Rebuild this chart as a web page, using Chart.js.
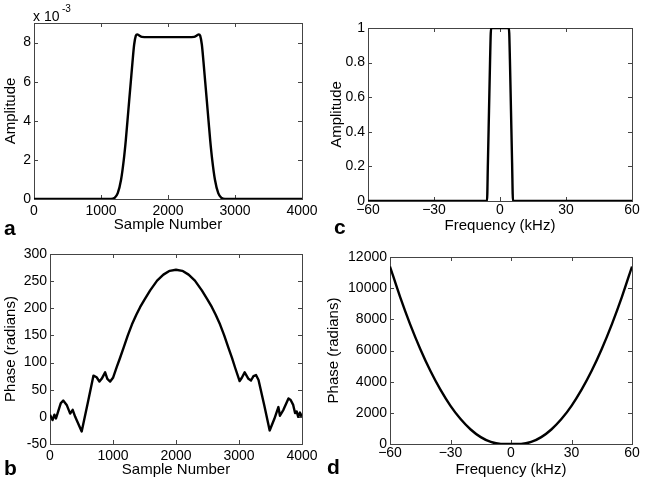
<!DOCTYPE html>
<html>
<head>
<meta charset="utf-8">
<script src="https://cdn.jsdelivr.net/npm/chart.js@4.4.1/dist/chart.umd.min.js"></script>
<style>
  html, body { margin: 0; padding: 0; background: #fff; }
  #wrap { position: relative; width: 645px; height: 484px; overflow: hidden; font-family: "Liberation Sans", Arial, sans-serif; color: #000; }
  #wrap canvas { position: absolute; left: 0; top: 0; }
  .tag { position: absolute; font-weight: bold; font-size: 21px; line-height: 21px; }
  .expo { position: absolute; font-size: 14px; line-height: 14px; white-space: nowrap; }
</style>
</head>
<body>
<div id="wrap">
  <canvas id="panelA" width="645" height="484"></canvas>
  <canvas id="panelB" width="645" height="484"></canvas>
  <canvas id="panelC" width="645" height="484"></canvas>
  <canvas id="panelD" width="645" height="484"></canvas>
  <div class="expo" style="left:33px;top:9px">x 10</div>
  <div class="expo" style="left:62px;top:4px;font-size:10px;line-height:10px">-3</div>
  <div class="tag" style="left:4px;top:217px">a</div>
  <div class="tag" style="left:4px;top:457px">b</div>
  <div class="tag" style="left:334px;top:216px">c</div>
  <div class="tag" style="left:327px;top:456px">d</div>
</div>
<script>
// a: pulse amplitude (x 10^-3) vs sample number
const sampleA = [0, 1150, 1200, 1250, 1300, 1340, 1370, 1395, 1420, 1445, 1470, 1495, 1520, 1540, 1570, 1610, 1700, 2000,
                 2300, 2390, 2430, 2460, 2480, 2505, 2530, 2555, 2580, 2605, 2630, 2660, 2700, 2750, 2800, 2850, 4000];
const ampA = [0, 0, 0.05, 0.3, 1.0, 2.0, 3.0, 4.0, 5.0, 6.0, 7.0, 7.9, 8.35, 8.42, 8.36, 8.29, 8.28, 8.28,
              8.28, 8.29, 8.36, 8.42, 8.35, 7.9, 7.0, 6.0, 5.0, 4.0, 3.0, 2.0, 1.0, 0.3, 0.05, 0, 0];

// b: phase (radians) vs sample number
const sampleB = [0, 40, 70, 95, 130, 170, 210, 265, 320, 360, 400, 503, 600, 690, 740, 785, 820, 875, 910, 955,
                 1000, 1060, 1110, 1170, 1235, 1300, 1370, 1430, 1500, 1590, 1700, 1800, 1900, 2000, 2100, 2200, 2300, 2410, 2500, 2570,
                 2630, 2700, 2765, 2830, 2890, 2940, 3010, 3045, 3090, 3150, 3190, 3230, 3270, 3310, 3400, 3487, 3560, 3625, 3650, 3705,
                 3785, 3820, 3860, 3890, 3915, 3940, 3968, 3985, 4000];
const phaseB = [4, -6, 4, -3, 10, 25, 30, 22, 6, 13, 0, -27, 26, 76, 73, 65, 70, 82, 70, 65,
                72, 92, 108, 128, 150, 170, 188, 202, 216, 233, 251, 262, 269, 271, 269, 262, 251, 233, 216, 202,
                188, 170, 150, 128, 108, 90, 66, 72, 82, 70, 67, 75, 77, 68, 22, -25, -4, 18, 2, 13,
                34, 31, 22, 7, 10, 0, 8, 2, 6];

// c: amplitude vs frequency (kHz)
const freqC = [-60, -5.9, -5.5, -5.0, -4.5, -4.2, -3.9, 0, 3.9, 4.2, 4.5, 5.0, 5.5, 5.9, 60];
const ampC = [0, 0, 0.22, 0.52, 0.82, 0.97, 1, 1, 1, 0.97, 0.82, 0.52, 0.22, 0, 0];

// d: phase (radians) vs frequency (kHz)
const freqD = [-60, -55, -50, -45, -40, -35, -30, -25, -20, -15, -10, -5, 0, 5, 10, 15, 20, 25, 30, 35, 40, 45, 50, 55, 60];
const phaseD = [11390, 9440, 7680, 6100, 4700, 3490, 2450, 1600, 930, 440, 130, 5, 0, 5, 130, 440, 930, 1600, 2450, 3490, 4700, 6100, 7680, 9440, 11390];

// tick values
const sampleTicks = [0, 1000, 2000, 3000, 4000];
const freqTicks = [-60, -30, 0, 30, 60];
const ampTicksA = [0, 2, 4, 6, 8];
const phaseTicksB = [-50, 0, 50, 100, 150, 200, 250, 300];
const ampTicksC = [0, 0.2, 0.4, 0.6, 0.8, 1];
const phaseTicksD = [0, 2000, 4000, 6000, 8000, 10000, 12000];

Chart.defaults.font.family = '"Liberation Sans", Arial, sans-serif';
Chart.defaults.color = '#000';

const TICK_LEN = 4;
const plain = v => String(v);
const minus = v => v < 0 ? '\u2212' + Math.abs(v) : String(v);

// matlab style box with inward ticks on all four sides
const framePlugin = {
    id: 'frame',
    beforeDatasetsDraw(chart) {
        const { ctx, chartArea: a, scales: { x, y } } = chart;
        ctx.save();
        ctx.strokeStyle = '#444';
        ctx.lineWidth = 1;
        ctx.strokeRect(a.left + 0.5, a.top + 0.5, a.right - a.left, a.bottom - a.top);
        ctx.beginPath();
        x.ticks.forEach(t => {
            const px = Math.round(x.getPixelForValue(t.value)) + 0.5;
            ctx.moveTo(px, a.bottom); ctx.lineTo(px, a.bottom - TICK_LEN);
            ctx.moveTo(px, a.top); ctx.lineTo(px, a.top + TICK_LEN);
        });
        y.ticks.forEach(t => {
            const py = Math.round(y.getPixelForValue(t.value)) + 0.5;
            ctx.moveTo(a.left, py); ctx.lineTo(a.left + TICK_LEN, py);
            ctx.moveTo(a.right, py); ctx.lineTo(a.right - TICK_LEN, py);
        });
        ctx.stroke();
        ctx.restore();
    }
};

function makePanel(id, cfg) {
    return new Chart(document.getElementById(id), {
        type: 'line',
        data: {
            datasets: [{
                data: cfg.xs.map((v, i) => ({ x: v, y: cfg.ys[i] })),
                borderColor: '#000',
                borderWidth: 2.4,
                pointRadius: 0,
                cubicInterpolationMode: cfg.smooth ? 'monotone' : 'default',
                tension: 0,
                borderJoinStyle: 'round',
                fill: false
            }]
        },
        options: {
            responsive: false,
            animation: false,
            devicePixelRatio: 1,
            layout: { padding: cfg.pad },
            plugins: { legend: { display: false }, tooltip: { enabled: false } },
            scales: {
                x: {
                    type: 'linear',
                    min: cfg.xTicks[0],
                    max: cfg.xTicks[cfg.xTicks.length - 1],
                    afterBuildTicks: s => { s.ticks = cfg.xTicks.map(v => ({ value: v })); },
                    afterFit: s => { s.height = cfg.xH; },
                    grid: { display: false, drawTicks: false },
                    border: { display: false },
                    ticks: { autoSkip: false, maxRotation: 0, padding: cfg.xPad, font: { size: 14 }, callback: cfg.xFmt },
                    title: { display: true, text: cfg.xTitle, font: { size: 15 }, padding: { top: 0, bottom: 2 } }
                },
                y: {
                    type: 'linear',
                    min: cfg.yMin,
                    max: cfg.yMax,
                    afterBuildTicks: s => { s.ticks = cfg.yTicks.map(v => ({ value: v })); },
                    afterFit: s => { s.width = cfg.yW; },
                    grid: { display: false, drawTicks: false },
                    border: { display: false },
                    ticks: { autoSkip: false, padding: 3, font: { size: 14 }, callback: plain },
                    title: { display: true, text: cfg.yTitle, font: { size: 15 }, padding: { top: 2, bottom: 0 } }
                }
            }
        },
        plugins: [framePlugin]
    });
}

makePanel('panelA', {
    xs: sampleA, ys: ampA, smooth: true, xTicks: sampleTicks, yTicks: ampTicksA, yMin: 0, yMax: 9,
    xFmt: plain, xTitle: 'Sample Number', yTitle: 'Amplitude',
    pad: { left: 0, top: 23, right: 343, bottom: 248 }, yW: 34, xH: 37, xPad: 4
});
makePanel('panelB', {
    xs: sampleB, ys: phaseB, smooth: false, xTicks: sampleTicks, yTicks: phaseTicksB, yMin: -50, yMax: 300,
    xFmt: plain, xTitle: 'Sample Number', yTitle: 'Phase (radians)',
    pad: { left: 0, top: 254, right: 343, bottom: 3 }, yW: 50, xH: 37, xPad: 4
});
makePanel('panelC', {
    xs: freqC, ys: ampC, smooth: true, xTicks: freqTicks, yTicks: ampTicksC, yMin: 0, yMax: 1,
    xFmt: minus, xTitle: 'Frequency (kHz)', yTitle: 'Amplitude',
    pad: { left: 326, top: 28, right: 13, bottom: 247 }, yW: 42, xH: 36, xPad: 1
});
makePanel('panelD', {
    xs: freqD, ys: phaseD, smooth: true, xTicks: freqTicks, yTicks: phaseTicksD, yMin: 0, yMax: 12000,
    xFmt: minus, xTitle: 'Frequency (kHz)', yTitle: 'Phase (radians)',
    pad: { left: 323, top: 257, right: 13, bottom: 3 }, yW: 67, xH: 37, xPad: 1
});
</script>
</body>
</html>
